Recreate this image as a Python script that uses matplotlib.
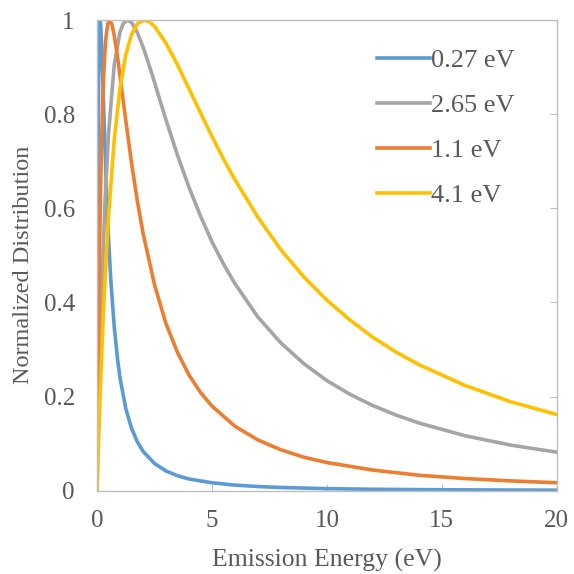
import matplotlib.pyplot as plt

plt.rcParams['font.family'] = ['Liberation Serif', 'DejaVu Serif']

# values (emission energy in eV, normalized distribution)
e_027 = [0, 0.01, 0.02, 0.03, 0.05, 0.07, 0.09, 0.11, 0.135, 0.16, 0.2, 0.25, 0.3, 0.35, 0.4, 0.5, 0.6,
         0.75, 0.9, 1, 1.25, 1.5, 1.75, 2, 2.5, 3, 3.5, 4, 5, 6, 7, 8, 10, 12, 15, 20]
d_027 = [0, 0.224, 0.404, 0.547, 0.751, 0.876, 0.949, 0.987, 1.0, 0.990, 0.948, 0.875, 0.797, 0.723, 0.655,
         0.539, 0.448, 0.348, 0.277, 0.240, 0.175, 0.133, 0.1045, 0.084, 0.058, 0.042, 0.032, 0.025, 0.017,
         0.012, 0.009, 0.007, 0.0045, 0.0032, 0.0021, 0.0012]

e_265 = [0, 0.05, 0.1, 0.15, 0.25, 0.35, 0.5, 0.75, 1, 1.15, 1.325, 1.5, 1.75, 2, 2.25, 2.5, 3, 3.5, 4, 4.5,
         5, 5.5, 6, 7, 8, 9, 10, 11, 12, 13, 14, 16, 18, 20]
d_265 = [0, 0.120, 0.228, 0.324, 0.486, 0.615, 0.758, 0.905, 0.975, 0.9935, 1.0, 0.995, 0.974, 0.943, 0.907,
         0.868, 0.788, 0.713, 0.645, 0.584, 0.529, 0.482, 0.440, 0.369, 0.314, 0.270, 0.234, 0.205, 0.181,
         0.161, 0.144, 0.117, 0.097, 0.082]

e_11 = [0, 0.025, 0.05, 0.1, 0.15, 0.2, 0.25, 0.3, 0.35, 0.4, 0.47, 0.55, 0.65, 0.75, 0.875, 1, 1.25, 1.5,
        1.75, 2, 2.5, 3, 3.5, 4, 4.5, 5, 6, 7, 8, 9, 10, 12, 14, 16, 18, 20]
d_11 = [0, 0.143, 0.2685, 0.473, 0.627, 0.743, 0.830, 0.893, 0.938, 0.968, 0.992, 1.0, 0.991, 0.967, 0.928,
        0.882, 0.787, 0.697, 0.617, 0.548, 0.438, 0.355, 0.294, 0.246, 0.209, 0.180, 0.137, 0.108, 0.087,
        0.0713, 0.060, 0.044, 0.033, 0.026, 0.021, 0.017]

e_41 = [0, 0.05, 0.1, 0.15, 0.25, 0.35, 0.5, 0.75, 1, 1.25, 1.5, 1.75, 2.05, 2.25, 2.5, 3, 3.5, 4, 4.5, 5,
        5.5, 6, 7, 8, 9, 10, 11, 12, 13, 14, 16, 18, 20]
d_41 = [0, 0.0794, 0.153, 0.222, 0.345, 0.451, 0.583, 0.746, 0.855, 0.926, 0.969, 0.992, 1.0, 0.997, 0.987,
        0.951, 0.905, 0.854, 0.803, 0.753, 0.705, 0.661, 0.581, 0.512, 0.454, 0.405, 0.363, 0.326, 0.295,
        0.268, 0.224, 0.189, 0.162]

series = [
    (e_027, d_027, '0.27 eV', '#5B9BD5'),
    (e_265, d_265, '2.65 eV', '#A5A5A5'),
    (e_11, d_11, '1.1 eV', '#ED7D31'),
    (e_41, d_41, '4.1 eV', '#FFC000'),
]

fig = plt.figure(figsize=(5.74, 5.74), dpi=100)
ax = fig.add_axes([0.169, 0.145, 0.801, 0.82])

for x, y, lab, col in series:
    ax.plot(x, y, color=col, lw=2.6, label=lab, solid_joinstyle='round')

ax.set_xlim(0, 20)
ax.set_ylim(0, 1)
ax.set_xticks([0, 5, 10, 15, 20])
ax.set_yticks([0, 0.2, 0.4, 0.6, 0.8, 1])
ax.set_yticklabels(['0', '0.2', '0.4', '0.6', '0.8', '1'])

for s in ax.spines.values():
    s.set_color('#BFBFBF')
    s.set_linewidth(1)

ax.tick_params(axis='x', direction='in', length=5, color='#BFBFBF', labelsize=18,
               labelcolor='#595959', pad=14)
ax.tick_params(axis='y', direction='in', length=5, color='#BFBFBF', labelsize=18,
               labelcolor='#595959', left=False, right=True, labelleft=True, pad=16)

ax.set_xlabel('Emission Energy (eV)', fontsize=18.5, color='#595959', labelpad=12)
ax.set_ylabel('Normalized Distribution', fontsize=17.5, color='#595959')
ax.yaxis.set_label_coords(-0.136, 0.48)

ax.legend(loc='upper left', bbox_to_anchor=(0.609, 0.94), borderaxespad=0, borderpad=0,
          frameon=False, fontsize=19, handlelength=2.0, handletextpad=0.05, labelspacing=0.82,
          labelcolor='#595959')

fig.savefig('out.png', dpi=100)
